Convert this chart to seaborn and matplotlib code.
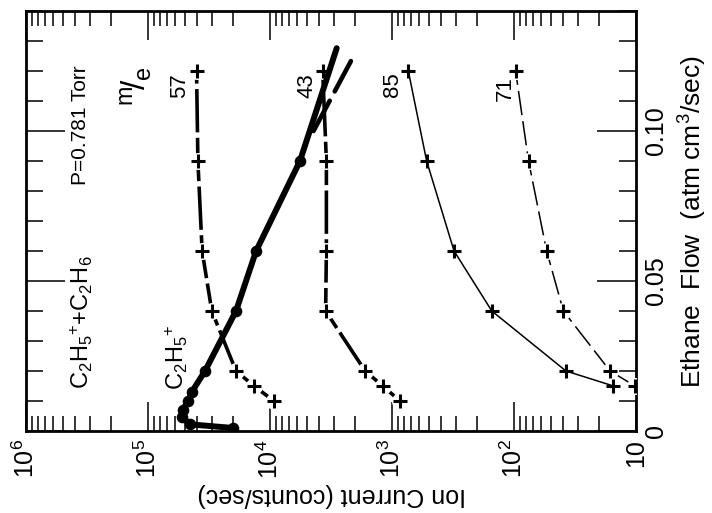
import matplotlib
matplotlib.use("Agg")
import matplotlib.pyplot as plt
import seaborn as sns
from matplotlib.ticker import FixedLocator, FixedFormatter, LogLocator, NullFormatter, MultipleLocator

# Ion current (counts/sec) versus ethane flow (atm cm^3/sec)
flow_57 = [0.01, 0.015, 0.02, 0.04, 0.06, 0.09, 0.12]
ion_57 = [9300, 13500, 19000, 30000, 36000, 39000, 40000]

flow_43 = [0.01, 0.015, 0.02, 0.04, 0.06, 0.09, 0.12]
ion_43 = [860, 1190, 1660, 3500, 3450, 3450, 3700]

flow_85 = [0.015, 0.02, 0.04, 0.06, 0.09, 0.12]
ion_85 = [15.3, 37.5, 152, 310, 520, 735]

flow_71 = [0.015, 0.02, 0.04, 0.06, 0.09, 0.12]
ion_71 = [10.2, 16.3, 39.4, 54, 76, 97]

flow_c2h5 = [0.001, 0.0022, 0.0048, 0.007, 0.010, 0.013, 0.020, 0.040, 0.060, 0.090]
ion_c2h5 = [20000, 45000, 53000, 52000, 46800, 43800, 34100, 19000, 13000, 5680]

# straight-line continuation of the C2H5+ decay and an alternative dashed branch
flow_c2h5_ext = [0.090, 0.1276]
ion_c2h5_ext = [5680, 2840]
flow_c2h5_alt = [0.100, 0.126]
ion_c2h5_alt = [4400, 2000]

decade_ticks = [1e6, 1e5, 1e4, 1e3, 1e2, 1e1]
decade_labels = [r"$10^{6}$", r"$10^{5}$", r"$10^{4}$", r"$10^{3}$", r"$10^{2}$", "10"]
flow_ticks = [0.0, 0.05, 0.10]
flow_labels = ["0", "0.05", "0.10"]

sns.set_theme(style="white")
plt.rcParams["font.family"] = ["Liberation Sans", "DejaVu Sans"]
plt.rcParams["mathtext.fontset"] = "custom"
plt.rcParams["mathtext.rm"] = "Liberation Sans"
plt.rcParams["mathtext.it"] = "Liberation Sans"
plt.rcParams["mathtext.bf"] = "Liberation Sans"

fig = plt.figure(figsize=(7.12, 5.13), dpi=100)
ax = fig.add_axes([26 / 712, 1 - 431 / 513, 610 / 712, 420 / 513])
ax.set_xscale("log")

K = "black"

def gapped_series(ion, flow, lw, ls):
    sns.lineplot(x=ion, y=flow, sort=False, estimator=None, ax=ax, color=K,
                 lw=lw, linestyle=ls, zorder=2)
    sns.scatterplot(x=ion, y=flow, ax=ax, color="white", marker="o", s=150,
                    linewidth=0, zorder=3)
    sns.scatterplot(x=ion, y=flow, ax=ax, color=K, marker="+", s=110,
                    linewidth=2.2, zorder=4)

gapped_series(ion_57, flow_57, 2.6, (0, (12, 1.5)))
gapped_series(ion_43, flow_43, 2.6, (0, (12, 1.5)))
gapped_series(ion_71, flow_71, 1.1, (0, (16, 4)))

sns.lineplot(x=ion_85, y=flow_85, sort=False, estimator=None, ax=ax, color=K,
             lw=1.1, zorder=2)
sns.scatterplot(x=ion_85, y=flow_85, ax=ax, color=K, marker="+", s=110,
                linewidth=2.2, zorder=4)

sns.lineplot(x=ion_c2h5, y=flow_c2h5, sort=False, estimator=None, ax=ax, color=K,
             lw=4.3, zorder=5, solid_capstyle="round", solid_joinstyle="round")
sns.lineplot(x=ion_c2h5_ext, y=flow_c2h5_ext, sort=False, estimator=None, ax=ax,
             color=K, lw=4.3, zorder=5, solid_capstyle="round")
sns.scatterplot(x=ion_c2h5, y=flow_c2h5, ax=ax, color=K, marker="o", s=70,
                linewidth=0, zorder=6)
sns.lineplot(x=ion_c2h5_alt, y=flow_c2h5_alt, sort=False, estimator=None, ax=ax,
             color=K, lw=3.3, linestyle=(0, (7.5, 2.3)), zorder=5,
             dash_capstyle="round")

ax.set_xlim(1e6, 10)
ax.set_ylim(0, 0.14)

# log axis ticks
ax.xaxis.set_major_locator(FixedLocator(decade_ticks))
ax.xaxis.set_major_formatter(FixedFormatter(decade_labels))
ax.xaxis.set_minor_locator(LogLocator(base=10, subs=range(2, 10), numticks=30))
ax.xaxis.set_minor_formatter(NullFormatter())
ax.tick_params(axis="x", which="major", direction="in", length=21, width=1.1,
               top=True, bottom=True, labelsize=18, pad=6, labelrotation=90,
               colors=K)
ax.tick_params(axis="x", which="minor", direction="in", length=11, width=1.1,
               top=True, bottom=True, colors=K)

# flow axis ticks, labelled on the right
ax.yaxis.set_major_locator(FixedLocator(flow_ticks))
ax.yaxis.set_major_formatter(FixedFormatter(flow_labels))
ax.yaxis.set_minor_locator(MultipleLocator(0.01))
ax.yaxis.set_minor_formatter(NullFormatter())
ax.tick_params(axis="y", which="major", direction="in", length=28, width=1.1,
               left=True, right=True, labelleft=False, labelright=True,
               labelsize=18, pad=6, labelrotation=90, colors=K)
ax.tick_params(axis="y", which="minor", direction="in", length=12, width=1.1,
               left=True, right=True, colors=K)
for lbl in ax.get_yticklabels():
    lbl.set_va("center")

for sp in ax.spines.values():
    sp.set_linewidth(2.0)
    sp.set_color(K)

ax.set_xlabel("")
ax.set_ylabel("")
fig.text(693 / 712, 1 - 222 / 513, r"Ethane  Flow  (atm cm$^{3}$/sec)", rotation=90,
         ha="center", va="center", fontsize=19, color=K)
fig.text(332 / 712, 1 - 495 / 513, "Ion Current (counts/sec)", rotation=180,
         ha="center", va="center", fontsize=18, color=K)

# in-plot annotations
txt = dict(rotation=90, ha="center", va="center", color=K)
ax.text(3.6e5, 0.102, "P=0.781 Torr", fontsize=15, **txt)
ax.text(1.24e5, 0.115, r"$^{\mathrm{m}}\!/_{\mathrm{e}}$", fontsize=24, **txt)
ax.text(5.47e4, 0.115, "57", fontsize=16, **txt)
ax.text(4980, 0.115, "43", fontsize=16, **txt)
ax.text(1000, 0.1153, "85", fontsize=16, **txt)
ax.text(118.6, 0.1143, "71", fontsize=16, **txt)
ax.text(3.47e5, 0.0363, r"C$_2$H$_5$$^{+}$+C$_2$H$_6$", fontsize=17, **txt)
ax.text(5.78e4, 0.0247, r"C$_2$H$_5$$^{+}$", fontsize=17, **txt)

fig.savefig("out.png", dpi=100)
